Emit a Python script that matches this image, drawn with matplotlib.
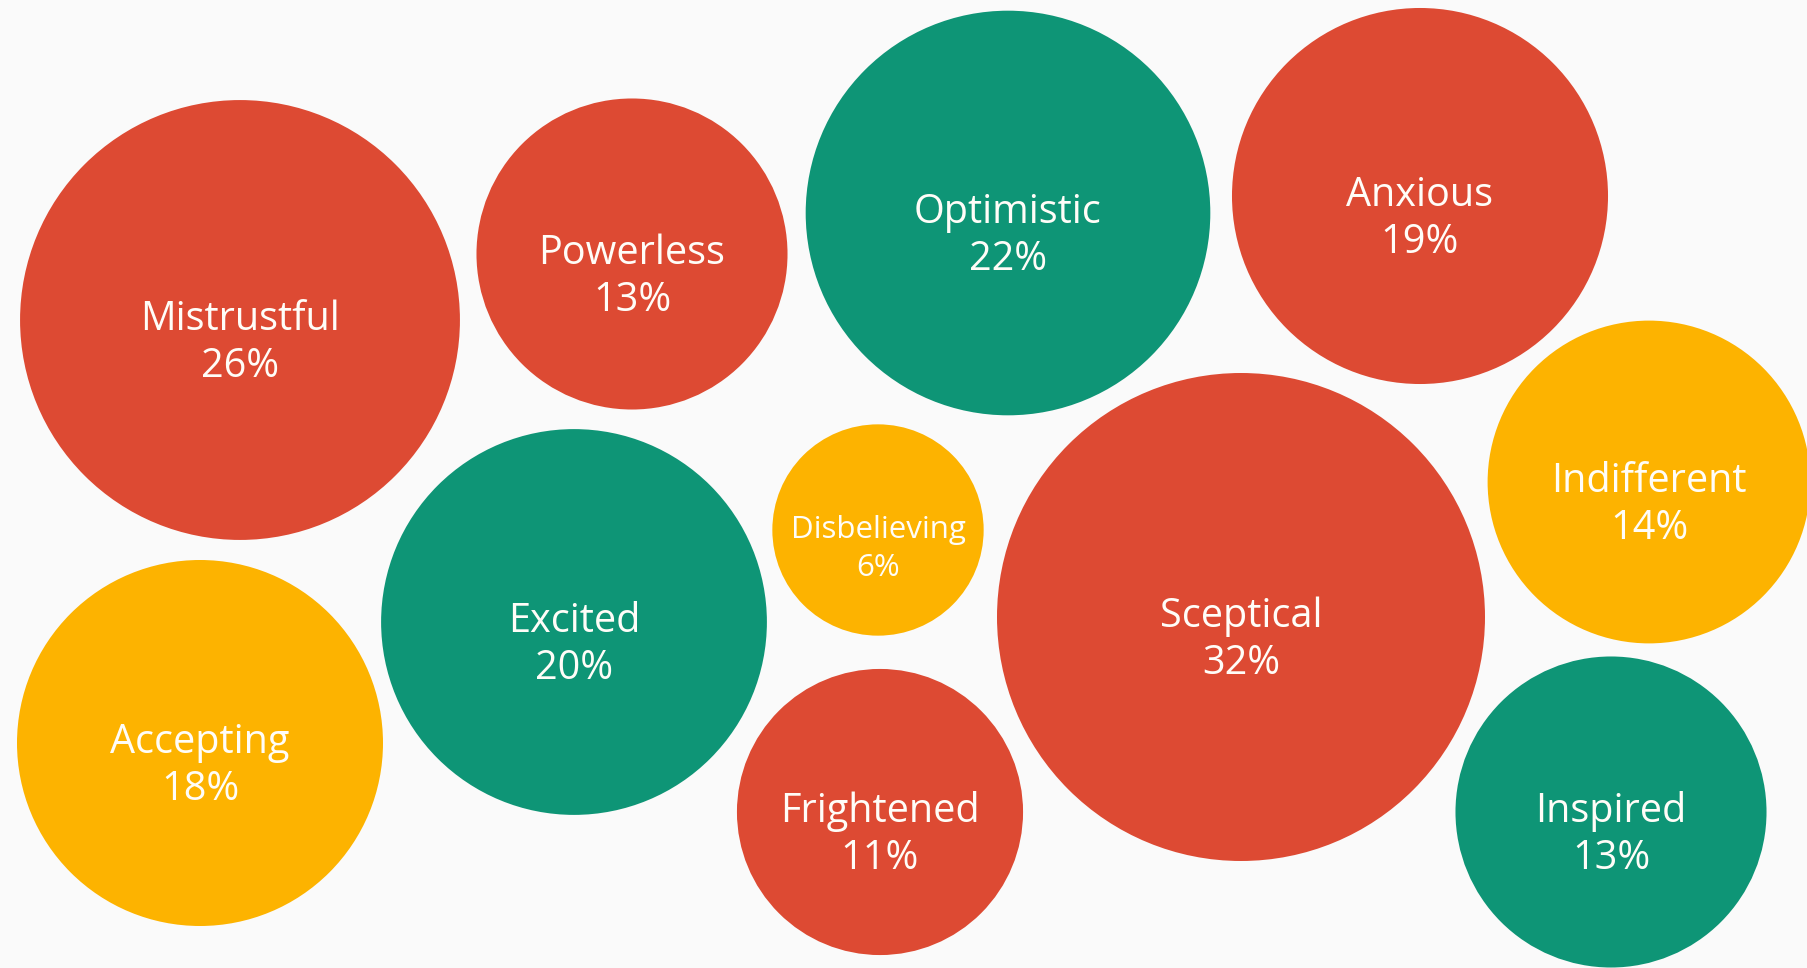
import numpy as np
import matplotlib.pyplot as plt
from matplotlib.patches import Circle

# Datos: emociones y porcentaje de respuestas
emociones = ["Mistrustful", "Powerless", "Optimistic", "Anxious", "Indifferent",
             "Sceptical", "Disbelieving", "Excited", "Accepting", "Frightened", "Inspired"]
porcentajes = [26, 13, 22, 19, 14, 32, 6, 20, 18, 11, 13]
grupos = ["neg", "neg", "pos", "neg", "neu", "neg", "neu", "pos", "neu", "neg", "pos"]

# Disposicion de las burbujas (centros en pixeles de la imagen)
centros_x = [240, 632, 1008, 1420, 1649, 1241, 878, 574, 200, 880, 1611]
centros_y = [320, 254, 213, 196, 482, 617, 530, 622, 743, 812, 812]

colores = {"neg": "#DD4A33", "pos": "#0E9576", "neu": "#FDB300"}
fondo = "#FAFAFA"

# El area de cada burbuja es proporcional al porcentaje
radio_max = 244
escala = radio_max / np.sqrt(max(porcentajes))

plt.rcParams["font.family"] = ["Open Sans", "DejaVu Sans"]

fig = plt.figure(figsize=(18.07, 9.68), dpi=100, facecolor=fondo)
ax = fig.add_axes([0, 0, 1, 1])
ax.set_xlim(0, 1807)
ax.set_ylim(968, 0)
ax.set_aspect("equal")
ax.axis("off")
ax.set_facecolor(fondo)

for nombre, valor, grupo, cx, cy in zip(emociones, porcentajes, grupos, centros_x, centros_y):
    r = escala * np.sqrt(valor)
    ax.add_patch(Circle((cx, cy), r, facecolor=colores[grupo], edgecolor="none"))
    # las burbujas pequenas llevan el texto mas chico
    if valor < 10:
        tam, salto = 22.5, 38
    else:
        tam, salto = 28.5, 47
    ax.text(cx, cy - 0.1 * salto + 4, nombre, ha="center", va="center",
            fontsize=tam, color="#FFFDF8")
    ax.text(cx, cy + 0.9 * salto + 4, f"{valor}%", ha="center", va="center",
            fontsize=tam, color="#FFFDF8")

fig.savefig("out.png", dpi=100, facecolor=fondo)
